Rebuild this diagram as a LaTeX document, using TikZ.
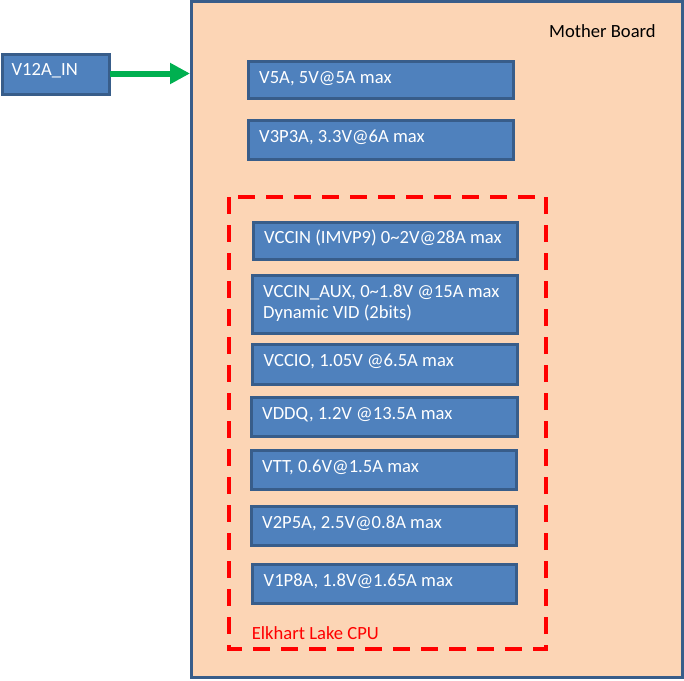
\documentclass[tikz,border=0pt]{standalone}
\usepackage{fontspec}
\setmainfont{Carlito}
\usetikzlibrary{arrows.meta}
\definecolor{peach}{HTML}{FCD5B5}
\definecolor{boxblue}{HTML}{4F81BD}
\definecolor{boxedge}{HTML}{385D8A}
\definecolor{okgreen}{HTML}{00B050}
\tikzset{
  rail/.style={draw=boxedge, fill=boxblue, line width=3pt, inner sep=0pt},
  railtext/.style={anchor=base west, inner sep=0pt, text=white, font=\fontsize{18.6}{21}\selectfont, align=left},
  board/.style={draw=boxedge, fill=peach, line width=3pt},
  cpuzone/.style={draw=red, line width=4pt, dash pattern=on 17pt off 11pt},
}
\begin{document}
\begin{tikzpicture}[x=1pt,y=-1pt]
\useasboundingbox (0,0) rectangle (684,680);
% mother board
\draw[board] (191.5,1.5) rectangle (682.5,677.5);
\node[railtext, text=black] (mb) at (549,37.3) {Mother Board};
% input
\draw[rail] (2.5,54) rectangle (109.5,94);
\coordinate (inR) at (109.5,73.5);
\node[railtext] (vin) at (11.5,75.7) {V12A\_IN};
\coordinate (mbL) at (190,73.5);
\draw[okgreen, line width=6pt, -{Triangle[length=20pt,width=20pt]}] (inR) -- (mbL);
% rails
\newcommand{\railbox}[7]{%
  \draw[rail] (#2,#3) rectangle (#4,#5);
  \node[railtext] (#1) at (#2+11,#3+#6) {#7};
}
\railbox{v5a}{248}{61.5}{513.5}{98.5}{21.5}{V5A, 5V@5A max}
\railbox{v3p3a}{248}{120.5}{513.5}{159}{21.5}{V3P3A, 3.3V@6A max}
\railbox{vccin}{253}{222.5}{517}{259.5}{21}{VCCIN (IMVP9) 0\textasciitilde 2V@28A max}
\railbox{vccinaux}{252}{275.5}{517}{333}{42.5}{VCCIN\_AUX, 0\textasciitilde 1.8V @15A max\\Dynamic VID (2bits)}
\railbox{vccio}{252.5}{344.5}{517}{384}{21.5}{VCCIO, 1.05V @6.5A max}
\railbox{vddq}{251}{397.5}{517}{436.5}{21.5}{VDDQ, 1.2V @13.5A max}
\railbox{vtt}{251}{450.5}{516.5}{489}{21.5}{VTT, 0.6V@1.5A max}
\railbox{v2p5a}{251}{506.5}{516}{545.5}{21.5}{V2P5A, 2.5V@0.8A max}
\railbox{v1p8a}{252.5}{564.5}{516.5}{603}{21.5}{V1P8A, 1.8V@1.65A max}
% cpu zone
\draw[cpuzone] (229,197) rectangle (546,649);
\node[railtext, text=red] (cpu) at (251.7,639) {Elkhart Lake CPU};
\end{tikzpicture}
\end{document}
